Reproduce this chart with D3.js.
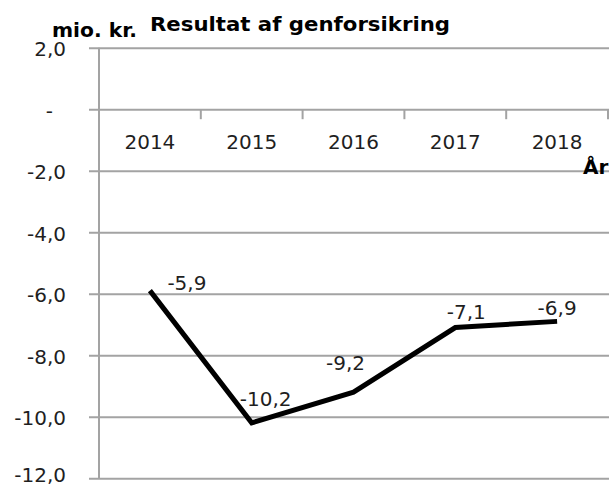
<!DOCTYPE html>
<html>
<head>
<meta charset="utf-8">
<script src="https://cdn.jsdelivr.net/npm/d3@7"></script>
<style>
body{margin:0;background:#fff;}
text{font-family:"DejaVu Sans",Verdana,sans-serif;}
</style>
</head>
<body>
<svg id="chart"></svg>
<script>
// data
var years=["2014","2015","2016","2017","2018"];
var values=[-5.9,-10.2,-9.2,-7.1,-6.9];
var yTicks=[2,0,-2,-4,-6,-8,-10,-12];

// hand placed data labels in the original (dx,dy from the point)
var labelNudge=[[37,-1],[14,-17],[-8,-22],[11,-9],[0,-6]];

var width=611,height=489;
var plot={left:99,right:608,top:47.7,bottom:478.2};
var grid="#a3a3a3";
var ink="#1f1f1f";

var svg=d3.select("#chart")
  .attr("width",width)
  .attr("height",height);

var x=d3.scaleBand()
  .domain(years)
  .range([plot.left,plot.right]);
var y=d3.scaleLinear()
  .domain([-12,2])
  .range([plot.bottom,plot.top]);

var fmt=function(d){
  if(d===0) return "-";
  return d.toFixed(1).replace(".",",");
};

// y axis + gridlines
var yAxis=d3.axisLeft(y)
  .tickValues(yTicks)
  .tickSize(10)
  .tickPadding(23)
  .tickFormat(fmt);
var gy=svg.append("g")
  .attr("transform","translate("+plot.left+",0)")
  .call(yAxis);
gy.select(".domain").remove();
gy.selectAll(".tick line")
  .attr("x2",plot.right-plot.left+1)
  .attr("x1",-10)
  .attr("stroke",grid)
  .attr("stroke-width",2);
gy.selectAll(".tick text")
  .attr("x",function(d){return d===0?-46:-33;})
  // bottom label pulled up a bit so it is not clipped by the edge
  .attr("dy",function(d){return d===-12?"0.18em":"0.4em";})
  .attr("fill",ink)
  .style("font-size","20px");
svg.append("line")
  .attr("x1",plot.left).attr("x2",plot.left)
  .attr("y1",plot.top).attr("y2",plot.bottom)
  .attr("stroke",grid)
  .attr("stroke-width",2);

// x axis on zero line, ticks at category edges
var xAxis=d3.axisBottom(x)
  .tickSize(0)
  .tickPadding(26);
var gx=svg.append("g")
  .attr("transform","translate(0,"+y(0)+")")
  .call(xAxis);
gx.select(".domain").remove();
gx.selectAll(".tick text")
  .attr("fill",ink)
  .style("font-size","20px");
var edges=years.map(function(d){return x(d);}).concat([plot.right]);
gx.selectAll("line.edge")
  .data(edges)
  .enter()
  .append("line")
  .attr("class","edge")
  .attr("x1",function(d){return d;})
  .attr("x2",function(d){return d;})
  .attr("y1",0)
  .attr("y2",10)
  .attr("stroke",grid)
  .attr("stroke-width",2);

// the line
var pts=years.map(function(d,i){return {year:d,value:values[i]};});
var line=d3.line()
  .x(function(d){return x(d.year)+x.bandwidth()/2;})
  .y(function(d){return y(d.value);});
svg.append("path")
  .datum(pts)
  .attr("d",line)
  .attr("fill","none")
  .attr("stroke","#000")
  .attr("stroke-width",5)
  .attr("stroke-linejoin","miter");

// data labels
svg.selectAll("text.lbl")
  .data(pts)
  .enter()
  .append("text")
  .attr("class","lbl")
  .attr("x",function(d,i){return x(d.year)+x.bandwidth()/2+labelNudge[i][0];})
  .attr("y",function(d,i){return y(d.value)+labelNudge[i][1];})
  .attr("text-anchor","middle")
  .attr("fill",ink)
  .style("font-size","20px")
  .text(function(d){return fmt(d.value);});

// titles
svg.append("text")
  .attr("x",150).attr("y",31)
  .style("font-size","20px")
  .style("font-weight","bold")
  .attr("textLength",300)
  .attr("lengthAdjust","spacingAndGlyphs")
  .text("Resultat af genforsikring");
svg.append("text")
  .attr("x",52).attr("y",36.7)
  .style("font-size","20px")
  .style("font-weight","bold")
  .attr("textLength",85)
  .attr("lengthAdjust","spacingAndGlyphs")
  .text("mio. kr.");
svg.append("text")
  .attr("x",583).attr("y",174)
  .style("font-size","20px")
  .style("font-weight","bold")
  .text("År");
</script>
</body>
</html>
